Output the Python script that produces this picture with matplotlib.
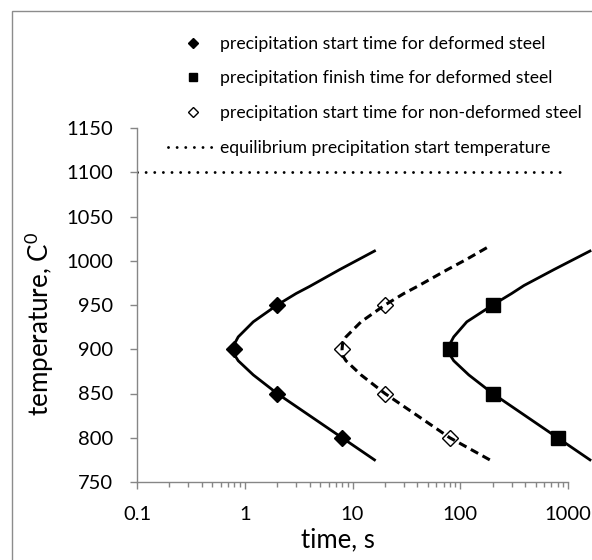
import matplotlib
matplotlib.use('Agg')
import matplotlib.pyplot as plt
from matplotlib.patches import Rectangle
from matplotlib.ticker import LogLocator, FixedLocator, NullFormatter

plt.rcParams['font.family'] = ['Lato', 'DejaVu Sans']
plt.rcParams['mathtext.fontset'] = 'custom'
plt.rcParams['mathtext.rm'] = 'Lato'
plt.rcParams['lines.scale_dashes'] = False

# marker points (time in s, temperature in C)
start_def_t = [0.8, 2, 2, 8]
start_def_T = [900, 950, 850, 800]
finish_def_t = [80, 200, 200, 800]
finish_def_T = [900, 950, 850, 800]
start_nondef_t = [8, 20, 20, 80]
start_nondef_T = [900, 950, 850, 800]

# fitted curves
curve_start_t = [16, 8, 4, 2, 1.2, 0.87, 0.81, 0.8, 0.81, 0.87, 1.2, 2, 3, 4, 7.6, 16]
curve_start_T = [775, 800, 825, 850, 871, 887, 893, 900, 907, 914, 931, 950, 963, 971, 990, 1011]
curve_nondef_t = [188, 80, 40, 20, 12, 8.7, 8.1, 8, 8.1, 8.7, 12, 20, 30, 40, 76, 116, 190]
curve_nondef_T = [775, 800, 825, 850, 871, 887, 893, 900, 907, 914, 931, 950, 963, 971, 990, 1002, 1017]
curve_finish_t = [1600, 800, 400, 200, 120, 87, 81, 80, 81, 87, 115, 200, 300, 390, 740, 1600]
curve_finish_T = [775, 800, 825, 850, 871, 887, 893, 900, 907, 914, 931, 950, 963, 972, 990, 1011]

equil_t = [0.1, 1000]
equil_T = [1100, 1100]

x_ticks = [0.1, 1, 10, 100, 1000]
x_ticklabels = ['0.1', '1', '10', '100', '1000']
y_ticks = [750, 800, 850, 900, 950, 1000, 1050, 1100, 1150]

W, H = 592, 560
fig = plt.figure(figsize=(W / 100, H / 100), dpi=100)
ax = fig.add_axes([137 / W, 1 - 482 / H, (568 - 137) / W, (482 - 128) / H])

# outer chart frame (cropped on the right and bottom)
fig.patches.append(Rectangle((11.5 / W, -0.1), 1.2, 1.1 - 10.5 / H, transform=fig.transFigure,
                             fill=False, edgecolor='#8c8c8c', linewidth=1.0))

# curves
ax.plot(curve_start_t, curve_start_T, color='black', lw=2.0, solid_joinstyle='round')
ax.plot(curve_nondef_t, curve_nondef_T, color='black', lw=2.2, dashes=(6, 3.6), dash_capstyle='butt')
ax.plot(curve_finish_t, curve_finish_T, color='black', lw=2.0, clip_on=False, solid_joinstyle='round')

# equilibrium line
eq, = ax.plot(equil_t, equil_T, color='black', lw=2.1, dashes=(0.01, 6.2), dash_capstyle='round',
              label='equilibrium precipitation start temperature')

# markers
h1, = ax.plot(start_def_t, start_def_T, 'D', color='black', ms=8.2, ls='none',
              label='precipitation start time for deformed steel')
h2, = ax.plot(finish_def_t, finish_def_T, 's', color='black', ms=10.5, ls='none',
              label='precipitation finish time for deformed steel')
h3, = ax.plot(start_nondef_t, start_nondef_T, 'D', mfc='none', mec='black', mew=1.0, ms=8.2,
              ls='none', label='precipitation start time for non-deformed steel')

ax.set_xscale('log')
ax.set_xlim(0.1, 1000)
ax.set_ylim(750, 1150)
ax.xaxis.set_major_locator(FixedLocator(x_ticks))
ax.set_xticklabels(x_ticklabels)
ax.xaxis.set_minor_locator(LogLocator(base=10, subs=range(2, 10)))
ax.xaxis.set_minor_formatter(NullFormatter())
ax.yaxis.set_major_locator(FixedLocator(y_ticks))

for side in ['top', 'right']:
    ax.spines[side].set_visible(False)
for side in ['left', 'bottom']:
    ax.spines[side].set_color('#868686')
    ax.spines[side].set_linewidth(1.0)

ax.tick_params(axis='both', which='major', colors='#868686', labelcolor='black', labelsize=14.5,
               length=5, width=1.0, direction='out')
ax.tick_params(axis='y', which='major', pad=12)
ax.tick_params(axis='x', which='major', pad=12.5)
ax.tick_params(axis='x', which='minor', colors='#868686', length=3.5, width=1.0, direction='out')

fig.text(338 / W, 1 - 540 / H, 'time, s', ha='center', va='center', fontsize=18.5)
fig.text(39 / W, 1 - 324 / H, 'temperature, C$^{0}$', ha='center', va='center', rotation=90,
         fontsize=18.7)

ax.legend(handles=[h1, h2, h3, eq], loc='upper left', bbox_to_anchor=(168 / W, 1 - 35.8 / H),
          bbox_transform=fig.transFigure, frameon=False, fontsize=12.7, markerscale=0.6,
          handlelength=2.78, handletextpad=0.18, labelspacing=1.06, borderpad=0, borderaxespad=0)

fig.savefig('out.png', dpi=100)
